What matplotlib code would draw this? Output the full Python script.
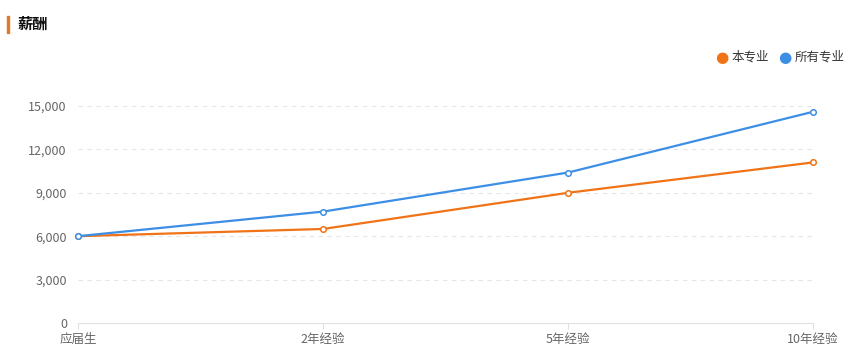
import matplotlib
matplotlib.use("Agg")
import matplotlib.pyplot as plt
from matplotlib.ticker import FuncFormatter

plt.rcParams['font.family'] = ['Noto Sans CJK SC', 'DejaVu Sans']

categories = ["应届生", "2年经验", "5年经验", "10年经验"]
major_salary = [6000, 6500, 9000, 11100]
all_salary = [6000, 7700, 10400, 14600]
series_names = ["本专业", "所有专业"]
colors = ["#f07318", "#3d8fe6"]
yticks = [0, 3000, 6000, 9000, 12000, 15000]

fig = plt.figure(figsize=(8.58, 3.63), dpi=100)
ax = fig.add_axes([78 / 858, 40 / 363, 735 / 858, 217 / 363])

x = list(range(len(categories)))
for vals, c in zip([major_salary, all_salary], colors):
    ax.plot(x, vals, color=c, linewidth=1.6, marker='o', markersize=4,
            markerfacecolor='white', markeredgecolor=c, markeredgewidth=1.1,
            zorder=3, clip_on=False)

ax.set_xlim(0, len(categories) - 1)
ax.set_ylim(0, 15000)
ax.set_yticks(yticks)
ax.yaxis.set_major_formatter(FuncFormatter(lambda v, p: "{:,.0f}".format(v)))
ax.set_xticks(x)
ax.set_xticklabels(categories)

for v in yticks[1:]:
    ax.axhline(v, color='#e6e6e6', linewidth=0.8, linestyle=(0, (4, 4)), zorder=1)

for s in ['top', 'right', 'left']:
    ax.spines[s].set_visible(False)
ax.spines['bottom'].set_color('#e0e0e0')
ax.tick_params(axis='y', length=0, pad=8, labelsize=9, labelcolor='#666666')
ax.tick_params(axis='x', length=4, color='#e0e0e0', pad=3, labelsize=9, labelcolor='#666666')

# title with bar
fig.patches.append(plt.Rectangle((7 / 858, 1 - 33 / 363), 2 / 858, 17 / 363,
                                 transform=fig.transFigure, color='#e07a2a'))
fig.text(18 / 858, 1 - 24 / 363, "薪酬", fontsize=11, fontweight='bold',
         color='#111111', va='center', ha='left')

# legend
lx = [722, 785]
for i, name in enumerate(series_names):
    fig.text(lx[i] / 858, 1 - 57 / 363, "●", color=colors[i], fontsize=11,
             va='center', ha='center', family=['DejaVu Sans'])
    fig.text((lx[i] + 10) / 858, 1 - 57 / 363, name, color='#333333', fontsize=9,
             va='center', ha='left')

fig.savefig("out.png", dpi=100)
